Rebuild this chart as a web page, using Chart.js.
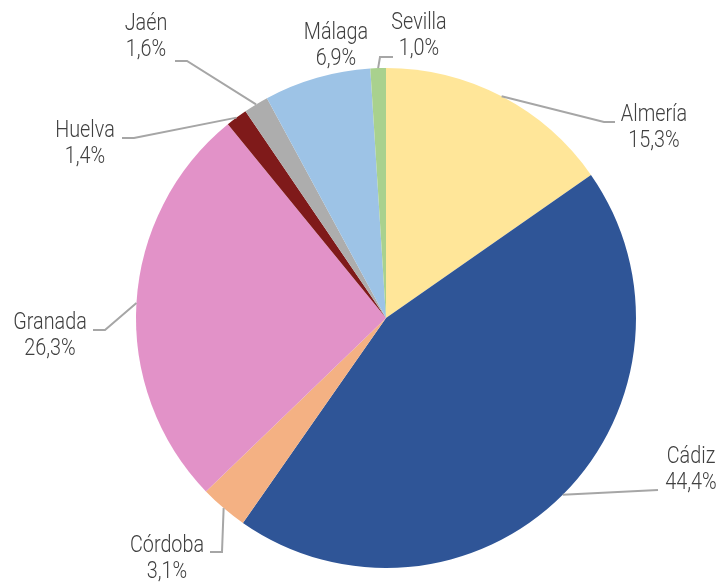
<!DOCTYPE html>
<html>
<head>
<meta charset="utf-8">
<script src="https://cdn.jsdelivr.net/npm/chart.js@4/dist/chart.umd.min.js"></script>
<style>
  html, body { margin:0; padding:0; background:#fff; }
  #wrap { width:720px; height:585px; position:relative; }
</style>
</head>
<body>
<div id="wrap"><canvas id="cPie"></canvas></div>
<script>
const PROVINCIAS = ['Almería','Cádiz','Córdoba','Granada','Huelva','Jaén','Málaga','Sevilla'];
const PORCENTAJE = [15.3, 44.4, 3.1, 26.3, 1.4, 1.6, 6.9, 1.0];
const COLORES = ['#FFE699','#2F5597','#F4B183','#E292C8','#7F1A1A','#ADADAD','#9DC3E6','#A9D18E'];

// label placement (text centre, first line y) and leader-line bends
const ETIQ = {
  'Almería': {x:654, y:115, path:[[604,122],[615,122]]},
  'Cádiz':   {x:691, y:457, path:[[658,490]]},
  'Córdoba': {x:167, y:546, path:[[222,552],[210,552]]},
  'Granada': {x:50,  y:323, path:[[105,330],[93,330]]},
  'Huelva':  {x:85,  y:131, path:[[134,138],[122,138]]},
  'Jaén':    {x:146, y:24,  path:[[187,61],[175,61]]},
  'Málaga':  {x:336, y:33,  path:null},
  'Sevilla': {x:419, y:23,  path:[[380,57],[393,57]]}
};
const FONT = '300 23px Roboto, "Liberation Sans", sans-serif';
const SX = 0.86; // narrow the type a bit, the original uses a condensed face
const fmt = v => v.toFixed(1).replace('.', ',') + '%';

const etiquetas = {
  id:'etiquetas',
  afterDraw(chart) {
    const ctx = chart.ctx;
    const arcs = chart.getDatasetMeta(0).data;
    arcs.forEach((arc, i) => {
      const name = PROVINCIAS[i];
      const p = ETIQ[name];
      const mid = (arc.startAngle + arc.endAngle) / 2;
      ctx.save();
      if (p.path) {
        ctx.beginPath();
        ctx.strokeStyle = '#A6A6A6';
        ctx.lineWidth = 2;
        ctx.moveTo(arc.x + Math.cos(mid) * arc.outerRadius, arc.y + Math.sin(mid) * arc.outerRadius);
        p.path.forEach(([x, y]) => ctx.lineTo(x, y));
        ctx.stroke();
      }
      ctx.fillStyle = '#404040';
      ctx.font = FONT;
      ctx.textAlign = 'center';
      ctx.textBaseline = 'middle';
      ctx.translate(p.x, p.y);
      ctx.scale(SX, 1);
      ctx.fillText(name, 0, 0);
      ctx.fillText(fmt(PORCENTAJE[i]), 0, 26);
      ctx.restore();
    });
  }
};

new Chart(document.getElementById('cPie'), {
  type:'pie',
  data:{ labels:PROVINCIAS, datasets:[{ data:PORCENTAJE, backgroundColor:COLORES, borderWidth:0 }] },
  options:{
    responsive:true, maintainAspectRatio:false, animation:false,
    layout:{ padding:{ left:136, right:84, top:68, bottom:17 } },
    plugins:{ legend:{display:false}, tooltip:{enabled:false} }
  },
  plugins:[etiquetas]
});
</script>
</body>
</html>
